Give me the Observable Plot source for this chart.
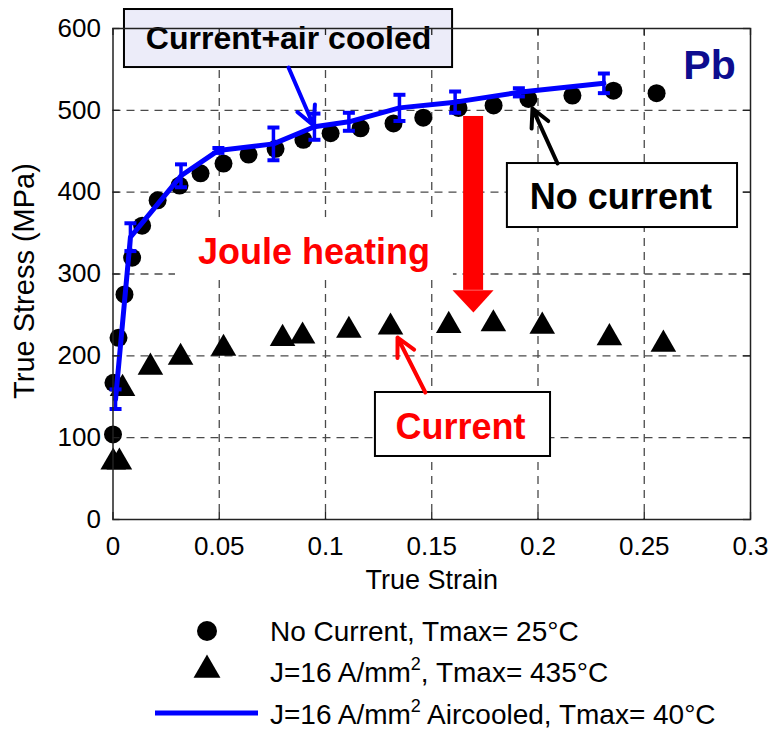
<!DOCTYPE html>
<html>
<head>
<meta charset="utf-8">
<script src="https://cdn.jsdelivr.net/npm/d3@7"></script>
<script src="https://cdn.jsdelivr.net/npm/@observablehq/plot@0.6"></script>
<style>
  html, body { margin: 0; padding: 0; background: #fff; }
  #chart { width: 772px; }
  svg { display: block; }
</style>
</head>
<body>
<div id="chart"></div>
<script>
// ---------------- data ----------------
// No current (circles)
const noCurStrain = [0, 0.0002, 0.0026, 0.0054, 0.009, 0.0137, 0.021, 0.0313, 0.0412, 0.052, 0.0638, 0.0765, 0.0896, 0.1024, 0.1165, 0.132, 0.146, 0.1626, 0.1791, 0.1955, 0.2162, 0.2355, 0.2558];
const noCurStress = [104, 167, 222, 275, 320, 359, 390, 408, 423, 435, 446, 453, 464, 472, 478, 484, 491, 503, 506, 514, 518, 524, 521];

// J = 16 A/mm^2 (triangles)
const curStrain = [0.0001, 0.003, 0.0045, 0.0176, 0.0318, 0.052, 0.0798, 0.0892, 0.111, 0.1306, 0.158, 0.179, 0.202, 0.2336, 0.259];
const curStress = [70, 70, 160, 186, 198, 209, 221, 224, 231, 235, 237, 239, 236, 222, 214];

// J = 16 A/mm^2 air cooled (blue line with error bars)
const airStrain = [0.0012, 0.0082, 0.032, 0.0496, 0.0755, 0.0948, 0.111, 0.1348, 0.161, 0.191, 0.231];
const airStress = [147, 345, 420, 451, 459, 480, 486, 503, 510, 522, 533];
const airErr    = [12, 17, 14, 3, 20, 16, 11, 16, 13, 5, 12];

// axes
const xTicks = [0, 0.05, 0.1, 0.15, 0.2, 0.25, 0.3];
const yTicks = [0, 100, 200, 300, 400, 500, 600];
const xGrid = [0.05, 0.1, 0.15, 0.2, 0.25];
const yGrid = [100, 200, 300, 400, 500];

// legend
const legendLabels = ["No Current, Tmax= 25°C", "J=16 A/mm|2|, Tmax= 435°C", "J=16 A/mm|2| Aircooled, Tmax= 40°C"];

// annotations (data coordinates)
const boxes = [
  {x1: 0.0054, x2: 0.1598, y1: 552.3, y2: 623.2, fill: "#ececf9"},
  {x1: 0.1856, x2: 0.2939, y1: 356.8, y2: 435, fill: "#ffffff"},
  {x1: 0.1235, x2: 0.2059, y1: 77, y2: 155.2, fill: "#ffffff"}
];
const labels = [
  {x: 0.0826, y: 588, text: "Current+air cooled", color: "#000", size: 32},
  {x: 0.239, y: 394.1, text: "No current", color: "#000", size: 36},
  {x: 0.0946, y: 326.9, text: "Joule heating", color: "#ff0000", size: 36},
  {x: 0.1635, y: 113, text: "Current", color: "#ff0000", size: 36},
  {x: 0.2807, y: 554.9, text: "Pb", color: "#0d0d8f", size: 41}
];
const joulePad = [{x1: 0.0294, x2: 0.1602, y1: 295.7, y2: 369}];
const arrows = [
  {x1: 0.0826, y1: 552.3, x2: 0.0944, y2: 481.5, color: "#0000ff"},
  {x1: 0.2092, y1: 435, x2: 0.1974, y2: 502.3, color: "#000000"},
  {x1: 0.147, y1: 155.2, x2: 0.1339, y2: 222.4, color: "#ff0000"}
];
const bigShaft = [{x1: 0.165, x2: 0.1744, y1: 280, y2: 492.5}];
const bigHead = [{x: 0.1598, y: 280}, {x: 0.1696, y: 253}, {x: 0.1791, y: 280}];

// ---------------- build ----------------
const noCur = noCurStrain.map((x, i) => ({x, y: noCurStress[i]}));
const cur = curStrain.map((x, i) => ({x, y: curStress[i]}));
const air = airStrain.map((x, i) => ({x, y: airStress[i], lo: airStress[i] - airErr[i], hi: airStress[i] + airErr[i]}));

const W = 772, H = 600, mL = 112.5, mR = 22, mT = 28, mB = 81;
const frameW = W - mL - mR, frameH = H - mT - mB;
const capSymbol = {draw(ctx, size) { const r = Math.sqrt(size / Math.PI); ctx.moveTo(-r, 0); ctx.lineTo(r, 0); }};
const gridStyle = {stroke: "#4a4a4a", strokeWidth: 1.3, strokeDasharray: "8,6"};

const plot = Plot.plot({
  width: W, height: H,
  marginLeft: mL, marginRight: mR, marginTop: mT, marginBottom: mB,
  x: {domain: [0, 0.3], label: null},
  y: {domain: [0, 600], label: null},
  style: {fontFamily: "'Liberation Sans', Arial, Helvetica, sans-serif", background: "#fff", color: "#000", overflow: "visible"},
  marks: [
    Plot.ruleX(xGrid, {x: d => d, ...gridStyle}),
    Plot.ruleY(yGrid, {y: d => d, ...gridStyle}),
    Plot.rect(joulePad, {x1: "x1", x2: "x2", y1: "y1", y2: "y2", fill: "#fff"}),
    // big red arrow
    Plot.rect(bigShaft, {x1: "x1", x2: "x2", y1: "y1", y2: "y2", fill: "#ff0000"}),
    Plot.line(bigHead, {x: "x", y: "y", fill: "#ff0000", stroke: "none", curve: "linear-closed"}),
    // data
    Plot.dot(noCur, {x: "x", y: "y", r: 9, fill: "#000", symbol: "circle"}),
    Plot.dot(cur, {x: "x", y: "y", r: 9.5, fill: "#000", symbol: "triangle"}),
    Plot.line(air, {x: "x", y: "y", stroke: "#0000ff", strokeWidth: 5, strokeLinejoin: "round"}),
    Plot.ruleX(air, {x: "x", y1: "lo", y2: "hi", stroke: "#0000ff", strokeWidth: 3.5}),
    Plot.dot(air, {x: "x", y: "lo", symbol: capSymbol, r: 6, stroke: "#0000ff", strokeWidth: 4, fill: "none"}),
    Plot.dot(air, {x: "x", y: "hi", symbol: capSymbol, r: 6, stroke: "#0000ff", strokeWidth: 4, fill: "none"}),
    // annotation boxes
    Plot.rect(boxes, {x1: "x1", x2: "x2", y1: "y1", y2: "y2", fill: "fill", stroke: "#000", strokeWidth: 2}),
    Plot.arrow(arrows, {x1: "x1", y1: "y1", x2: "x2", y2: "y2", stroke: "color", strokeWidth: 4, headAngle: 54, headLength: 10}),
    Plot.text(labels, {x: "x", y: "y", text: "text", fill: "color", fontSize: "size", fontWeight: "bold", textAnchor: "middle", lineAnchor: "middle"}),
    // frame and inward ticks
    Plot.frame({stroke: "#222", strokeWidth: 1.5}),
    Plot.tickX(xTicks, {x: d => d, insetTop: frameH - 7, stroke: "#222", strokeWidth: 1.3}),
    Plot.tickX(xTicks, {x: d => d, insetBottom: frameH - 7, stroke: "#222", strokeWidth: 1.3}),
    Plot.tickY(yTicks, {y: d => d, insetRight: frameW - 7, stroke: "#222", strokeWidth: 1.3}),
    Plot.tickY(yTicks, {y: d => d, insetLeft: frameW - 7, stroke: "#222", strokeWidth: 1.3}),
    // axes labels
    Plot.axisX(xTicks, {tickSize: 0, tickPadding: 17, fontSize: 26, tickFormat: d => String(d), label: null}),
    Plot.axisY(yTicks, {tickSize: 0, tickPadding: 12, fontSize: 26, tickFormat: d => String(d), label: null}),
    Plot.text(["True Strain"], {text: d => d, frameAnchor: "bottom", dy: 69, lineAnchor: "bottom", fontSize: 27, fill: "#000"}),
    Plot.text(["True Stress (MPa)"], {text: d => d, frameAnchor: "left", rotate: -90, dx: -88, dy: 7, lineAnchor: "middle", textAnchor: "middle", fontSize: 29, fill: "#000"})
  ]
});
document.getElementById("chart").appendChild(plot);

// ---------------- legend ----------------
const leg = d3.create("svg").attr("width", W).attr("height", 131)
  .attr("font-family", "'Liberation Sans', Arial, Helvetica, sans-serif").attr("font-size", 28);
leg.append("circle").attr("cx", 207).attr("cy", 31).attr("r", 10).attr("fill", "#000");
leg.append("path").attr("d", d3.symbol(d3.symbolTriangle, Math.PI * 10 * 10)()).attr("transform", "translate(207,70)").attr("fill", "#000");
leg.append("line").attr("x1", 155).attr("x2", 258).attr("y1", 113).attr("y2", 113).attr("stroke", "#0000ff").attr("stroke-width", 5);
const baselines = [41, 82, 124];
legendLabels.forEach((lab, i) => {
  const t = leg.append("text").attr("x", 270).attr("y", baselines[i]).attr("fill", "#000");
  const parts = lab.split("|");
  parts.forEach((p, j) => {
    if (j % 2 === 1) {
      t.append("tspan").attr("font-size", 18).attr("dy", -12).text(p);
    } else {
      const s = t.append("tspan").text(p);
      if (j > 0) s.attr("dy", 12);
    }
  });
});
document.getElementById("chart").appendChild(leg.node());
</script>
</body>
</html>
